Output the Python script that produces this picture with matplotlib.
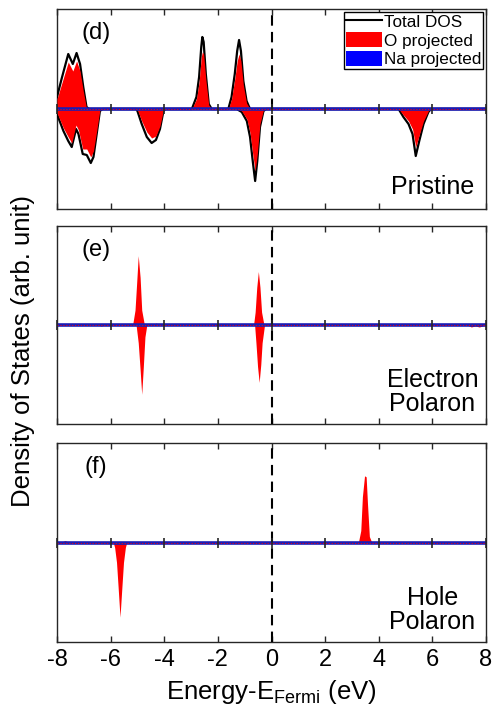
import numpy as np
import matplotlib
matplotlib.use('Agg')
import matplotlib.pyplot as plt
from matplotlib.lines import Line2D
from matplotlib.patches import Patch

plt.rcParams['font.family'] = ['Liberation Sans', 'DejaVu Sans']
plt.rcParams['axes.edgecolor'] = '#262626'
plt.rcParams['axes.unicode_minus'] = False

# energy axis ticks
xticks = [-8, -6, -4, -2, 0, 2, 4, 6, 8]

# (d) pristine - spin up (total, O) and spin down (total, O)
e_up_d = [-8.00, -7.83, -7.58, -7.41, -7.27, -7.14, -7.02, -6.90, -6.80,
          -2.97, -2.80, -2.70, -2.62, -2.58, -2.53, -2.45, -2.34, -2.23,
          -1.61, -1.49, -1.37, -1.28, -1.21, -1.14, -1.05, -0.93, -0.80, 8.00]
tot_up_d = [12, 30, 55, 45, 56, 45, 22, 2, 0,
            0, 12, 32, 62, 72, 67, 35, 5, 0,
            0, 12, 35, 58, 69, 58, 28, 8, 0, 0]
o_up_d = [10, 25, 47, 38, 48, 38, 18, 1, 0,
          0, 10, 27, 52, 57, 55, 30, 4, 0,
          0, 10, 30, 48, 55, 48, 24, 6, 0, 0]

e_dn_d = [-8.00, -7.76, -7.58, -7.45, -7.29, -7.20, -7.04, -6.89, -6.74, -6.64, -6.52, -6.40, -6.30,
          -5.05, -5.00, -4.84, -4.65, -4.47, -4.31, -4.16, -4.03, -3.95,
          -1.30, -1.11, -0.92, -0.80, -0.70, -0.61, -0.53, -0.43, -0.30, -0.20,
          4.74, 4.92, 5.11, 5.26, 5.38, 5.51, 5.67, 5.85, 5.95, 8.00]
tot_dn_d = [-5, -22, -32, -38, -20, -25, -45, -46, -54, -48, -25, -2, 0,
            0, -2, -15, -28, -34, -31, -20, -2, 0,
            0, -3, -12, -28, -52, -72, -52, -18, -2, 0,
            0, -8, -15, -25, -47, -32, -15, -3, 0, 0]
o_dn_d = [-4, -19, -28, -34, -16, -21, -40, -40, -48, -42, -22, -1, 0,
          0, -1, -12, -23, -29, -27, -17, -1, 0,
          0, -2, -10, -24, -45, -62, -45, -15, -1, 0,
          0, -6, -12, -20, -38, -26, -12, -2, 0, 0]

# (e) electron polaron - O projected
e_up_e = [-8.00, -5.18, -5.09, -5.03, -4.97, -4.90, -4.84, -4.74, -4.40, -4.30, -4.20,
          -0.67, -0.61, -0.55, -0.49, -0.43, -0.37, -0.28, 7.85, 7.95, 8.00]
o_up_e = [0, 0, 15, 42, 70, 48, 15, 0, 0, 2, 0,
          0, 13, 38, 54, 38, 13, 0, 0, 2, 1]
e_dn_e = [-8.00, -6.50, -6.35, -6.20, -5.05, -4.97, -4.90, -4.84, -4.78, -4.72, -4.65,
          -0.63, -0.58, -0.52, -0.46, -0.40, -0.35, -0.26, 7.30, 7.45, 7.60, 7.75, 8.00]
o_dn_e = [0, 0, -1, 0, 0, -18, -45, -70, -42, -12, 0,
          0, -18, -42, -58, -40, -18, 0, 0, -2, -1, -2, 0]

# (f) hole polaron - O projected
e_up_f = [-8.00, -7.85, -7.70, -7.55, 3.24, 3.33, 3.39, 3.47, 3.53, 3.58, 3.65, 3.74, 8.00]
o_up_f = [0, 0, 2, 0, 0, 12, 46, 67, 66, 39, 6, 0, 0]
e_dn_f = [-8.00, -5.90, -5.85, -5.78, -5.72, -5.65, -5.58, -5.52, -5.45, -5.40, 8.00]
o_dn_f = [0, 0, -5, -20, -45, -75, -45, -20, -5, 0, 0]

# Na projected stays at zero everywhere
e_na = [-8.00, 8.00]
na_dos = [0, 0]

fig = plt.figure(figsize=(4.93, 7.19), dpi=100)
left, width = 57/493, 429/493
ax1 = fig.add_axes([left, 1-209/719, width, 200/719])
ax2 = fig.add_axes([left, 1-424/719, width, 198/719])
ax3 = fig.add_axes([left, 1-642/719, width, 199/719])

panels = [
    (ax1, e_up_d, o_up_d, e_dn_d, o_dn_d, '(d)', 'Pristine'),
    (ax2, e_up_e, o_up_e, e_dn_e, o_dn_e, '(e)', 'Electron\nPolaron'),
    (ax3, e_up_f, o_up_f, e_dn_f, o_dn_f, '(f)', 'Hole\nPolaron'),
]

for ax, eu, ou, ed, od, tag, name in panels:
    ax.fill_between(eu, ou, 0, color='red', lw=0, zorder=3.5)
    ax.fill_between(ed, od, 0, color='red', lw=0, zorder=3.5)
    ax.plot(e_na, na_dos, color='#1c1cb4', lw=2.6, zorder=4)
    ax.axhline(0, color='red', lw=0.6, ls=(0, (1.5, 2)), zorder=4.2)
    ax.axvline(0, color='k', ls=(0, (5, 3)), lw=1.5, zorder=5)
    ax.set_xlim(-8, 8)
    ax.set_ylim(-100, 100)
    ax.set_xticks(xticks)
    ax.set_yticks([])
    ax.tick_params(axis='x', direction='in', top=True, length=4, width=1,
                   color='#262626', labelsize=17, pad=5)
    if ax is not ax3:
        ax.tick_params(labelbottom=False)
    for s in ax.spines.values():
        s.set_linewidth(1.0)
    # ticks crossing the zero line
    ax.plot(xticks, [0] * len(xticks), ls='none', marker='|', ms=7, mew=1.2,
            color='#262626', zorder=6, clip_on=False)

    if name == 'Pristine':
        ax.text(0.091, 0.88, tag, transform=ax.transAxes, fontsize=17,
                ha='center', va='center')
        ax.text(0.972, 0.11, name, transform=ax.transAxes, fontsize=18,
                ha='right', va='center')
    else:
        ax.text(0.091, 0.877, tag, transform=ax.transAxes, fontsize=17,
                ha='center', va='center')
        ax.text(0.875, 0.162, name, transform=ax.transAxes, fontsize=18,
                ha='center', va='center', multialignment='center',
                linespacing=1.0)

# total DOS only in pristine panel
ax1.plot(e_up_d, tot_up_d, color='k', lw=1.6, zorder=3)
ax1.plot(e_dn_d, tot_dn_d, color='k', lw=1.6, zorder=3)

handles = [Line2D([], [], color='k', lw=1.5),
           Patch(facecolor='red', edgecolor='none'),
           Patch(facecolor='blue', edgecolor='none')]
leg = ax1.legend(handles, ['Total DOS', 'O projected', 'Na projected'],
                 loc='upper right', fontsize=12.3, fancybox=False,
                 framealpha=1, edgecolor='k', borderaxespad=0.15,
                 borderpad=0.12, labelspacing=0.12, handlelength=2.1,
                 handletextpad=0.12, handleheight=1.0)
leg.get_frame().set_linewidth(1.0)
leg.set_zorder(10)

ax3.set_xlabel('Energy-E$_{\\mathregular{Fermi}}$ (eV)', fontsize=18.5, labelpad=5)
fig.text(23/493, 1-351/719, 'Density of States (arb. unit)', rotation=90,
         fontsize=18.5, ha='center', va='center')

fig.savefig('out.png', dpi=100)
